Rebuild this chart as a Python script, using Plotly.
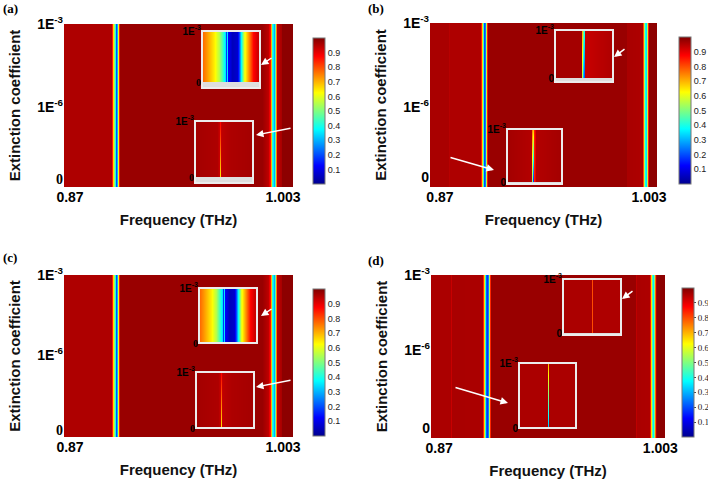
import plotly.graph_objects as go

W, H = 708, 480

# MATLAB style jet colour map
JET = [[0.0, '#00008f'], [0.125, '#0000ff'], [0.375, '#00ffff'],
       [0.625, '#ffff00'], [0.875, '#ff0000'], [1.0, '#800000']]

# ---- values ----
X_TICKS = [0.87, 1.003]
X_TICK_TEXT = ['0.87', '1.003']
Y_TICK_TEXT = ['0', '1E<sup>-6</sup>', '1E<sup>-3</sup>']
INSET_TICK_TEXT = ['0', '1E<sup>-3</sup>']
CBAR_TICKS = [0.1, 0.2, 0.3, 0.4, 0.5, 0.6, 0.7, 0.8, 0.9]

# transmission across frequency (constant along the extinction axis)
FREQ_A = [0.86625, 0.8956, 0.8962, 0.8968, 0.8978, 0.8987, 0.8993, 0.9000, 0.9006, 0.9012,
          0.9899, 0.9936, 0.9949, 0.9955, 0.9964, 0.9974, 0.9980, 0.9986, 0.9992, 1.0017,
          1.0024, 1.0092]
T_A = [0.955, 0.955, 0.85, 0.66, 0.40, 0.20, 0.30, 0.60, 0.85, 0.975,
       0.975, 0.94, 0.86, 0.70, 0.42, 0.30, 0.45, 0.75, 0.94, 0.96,
       0.987, 0.987]

FREQ_B = [0.86364, 0.87509, 0.87573, 0.87636, 0.89546, 0.89609, 0.89673, 0.89736, 0.89800,
          0.89864, 0.89927, 0.89991, 0.90055, 0.98837, 0.98900, 0.99855, 0.99918, 0.99982,
          1.00045, 1.00109, 1.00173, 1.00236, 1.00300, 1.00809]
T_B = [0.96, 0.96, 0.945, 0.955, 0.955, 0.85, 0.66, 0.42, 0.20,
       0.25, 0.55, 0.85, 0.975, 0.975, 0.96, 0.955, 0.80, 0.55,
       0.38, 0.35, 0.55, 0.85, 0.987, 0.987]

FREQ_D = [0.86512, 0.87671, 0.87732, 0.87793, 0.89562, 0.89623, 0.89684, 0.89745, 0.89806,
          0.89867, 0.89928, 0.89989, 0.90050, 0.90111, 0.98773, 0.98834, 0.98895, 0.99627,
          0.99688, 0.99749, 0.99810, 0.99871, 0.99932, 0.99993, 1.00054, 1.00115, 1.00579]
T_D = [0.958, 0.958, 0.93, 0.96, 0.958, 0.84, 0.66, 0.42, 0.22,
       0.18, 0.25, 0.55, 0.84, 0.975, 0.975, 0.94, 0.958, 0.955,
       0.85, 0.66, 0.45, 0.36, 0.50, 0.78, 0.95, 0.987, 0.987]

# insets: local position across the zoomed window, value at bottom / top edge
IN_A_TOP_U = [0.0, 0.214, 0.286, 0.357, 0.393, 0.411, 0.429, 0.446, 0.518, 0.607,
              0.643, 0.679, 0.732, 0.804, 0.875, 0.946, 1.0]
IN_A_TOP_T = [0.78, 0.64, 0.55, 0.42, 0.35, 0.18, 0.35, 0.12, 0.05, 0.07,
              0.20, 0.38, 0.60, 0.75, 0.87, 0.92, 0.93]

IN_A_BOT_U = [0.0, 0.38, 0.41, 0.425, 0.44, 0.47, 0.6, 1.0]
IN_A_BOT_T0 = [0.965, 0.955, 0.93, 0.65, 0.93, 0.94, 0.955, 0.965]
IN_A_BOT_T1 = [0.965, 0.955, 0.93, 0.88, 0.93, 0.94, 0.955, 0.965]

IN_B_TOP_U = [0.0, 0.45, 0.466, 0.48, 0.49, 0.50, 0.51, 0.525, 0.7, 1.0]
IN_B_TOP_T0 = [0.965, 0.965, 0.55, 0.40, 0.30, 0.20, 0.70, 0.93, 0.94, 0.955]
IN_B_TOP_T1 = [0.965, 0.965, 0.70, 0.60, 0.50, 0.40, 0.75, 0.93, 0.94, 0.955]

IN_B_BOT_U = [0.0, 0.44, 0.46, 0.47, 0.48, 0.49, 0.53, 1.0]
IN_B_BOT_T0 = [0.965, 0.95, 0.50, 0.30, 0.15, 0.85, 0.95, 0.965]
IN_B_BOT_T1 = [0.965, 0.95, 0.75, 0.60, 0.70, 0.85, 0.95, 0.965]

IN_D_TOP_U = [0.0, 0.49, 0.5, 0.51, 1.0]
IN_D_TOP_T = [0.958, 0.958, 0.80, 0.955, 0.955]

IN_D_BOT_U = [0.0, 0.50, 0.51, 0.52, 1.0]
IN_D_BOT_T0 = [0.958, 0.958, 0.30, 0.958, 0.958]
IN_D_BOT_T1 = [0.958, 0.958, 0.70, 0.958, 0.958]

SANS = 'Arial, Liberation Sans, sans-serif'
SERIF = 'Times New Roman, Liberation Serif, serif'

# ---- layout of the four panels, in pixels of the 708x480 page ----
PANELS = [
    dict(label='(a)', lab=(1, 8), main=(64, 24, 293, 187), cbar=(313, 38, 184),
         ypos=[0.05, 0.49, 1.0], zero_serif=True, cbar_serif=False,
         freq=FREQ_A, trans=T_A,
         insets=[dict(box=(202, 31, 260, 88), strip=6, u=IN_A_TOP_U, t0=IN_A_TOP_T, t1=IN_A_TOP_T,
                      arrow=((273, 57), (261, 65))),
                 dict(box=(195, 121, 253, 183), strip=6, u=IN_A_BOT_U, t0=IN_A_BOT_T0, t1=IN_A_BOT_T1,
                      arrow=((292, 128), (256, 135)))]),
    dict(label='(b)', lab=(366, 8), main=(430, 23, 657, 187), cbar=(679, 37, 184),
         ypos=[0.06, 0.49, 1.0], zero_serif=False, cbar_serif=False,
         freq=FREQ_B, trans=T_B,
         insets=[dict(box=(555, 30, 613, 82), strip=4, u=IN_B_TOP_U, t0=IN_B_TOP_T0, t1=IN_B_TOP_T1,
                      arrow=((626, 48), (614, 57))),
                 dict(box=(507, 129, 562, 184), strip=2, u=IN_B_BOT_U, t0=IN_B_BOT_T0, t1=IN_B_BOT_T1,
                      arrow=((449, 157), (494, 170)))]),
    dict(label='(c)', lab=(1, 257), main=(64, 275, 293, 437), cbar=(313, 289, 436),
         ypos=[0.045, 0.505, 1.0], zero_serif=True, cbar_serif=False,
         freq=FREQ_A, trans=T_A,
         insets=[dict(box=(199, 288, 257, 343), strip=0, u=IN_A_TOP_U, t0=IN_A_TOP_T, t1=IN_A_TOP_T,
                      arrow=((273, 308), (261, 316))),
                 dict(box=(196, 372, 254, 428), strip=0, u=IN_A_BOT_U, t0=IN_A_BOT_T0, t1=IN_A_BOT_T1,
                      arrow=((292, 380), (256, 387)))]),
    dict(label='(d)', lab=(366, 260), main=(431, 275, 665, 438), cbar=(682, 288, 437),
         ypos=[0.06, 0.54, 1.0], zero_serif=False, cbar_serif=True,
         freq=FREQ_D, trans=T_D,
         insets=[dict(box=(563, 279, 621, 335), strip=2, u=IN_D_TOP_U, t0=IN_D_TOP_T, t1=IN_D_TOP_T,
                      arrow=((634, 290), (622, 299))),
                 dict(box=(519, 363, 576, 428), strip=0, u=IN_D_BOT_U, t0=IN_D_BOT_T0, t1=IN_D_BOT_T1,
                      arrow=((454, 387), (508, 403)))]),
]


def _dom_x(x0, x1):
    return [x0 / W, x1 / W]


def _dom_y(y0, y1):
    return [1 - y1 / H, 1 - y0 / H]


def _axis_names(n):
    suffix = '' if n == 1 else str(n)
    return 'x' + suffix, 'y' + suffix, 'xaxis' + suffix, 'yaxis' + suffix


fig = go.Figure()
layout_axes = {}
shapes = []
annotations = []
n = 0

for p in PANELS:
    # main map
    n += 1
    xr, yr, xk, yk = _axis_names(n)
    x0, y0, x1, y1 = p['main']
    cx, cy0, cy1 = p['cbar']
    cb_font = dict(size=9, family=SERIF if p['cbar_serif'] else SANS, color='#222')
    fig.add_trace(go.Heatmap(
        x=p['freq'], y=[0, 1], z=[p['trans'], p['trans']], zsmooth='best',
        colorscale=JET, zmin=0, zmax=1, xaxis=xr, yaxis=yr, hoverinfo='skip',
        colorbar=dict(x=cx / W, xanchor='left', y=1 - cy0 / H, yanchor='top',
                      len=(cy1 - cy0) / H, lenmode='fraction', thickness=12,
                      tickvals=CBAR_TICKS, ticks='outside' if p['cbar_serif'] else '',
                      ticklen=2, tickfont=cb_font, outlinewidth=1, outlinecolor='#777',
                      xpad=0, ypad=0)))
    ytext = list(Y_TICK_TEXT)
    if p['zero_serif']:
        ytext[0] = '<span style="font-family:Liberation Serif">0</span>'
    layout_axes[xk] = dict(domain=_dom_x(x0, x1), range=[p['freq'][0], p['freq'][-1]],
                           anchor=yr, tickvals=X_TICKS, ticktext=X_TICK_TEXT, ticks='',
                           showgrid=False, zeroline=False, showline=False,
                           tickfont=dict(size=14, family=SANS, weight='bold', color='black'),
                           title=dict(text='Frequency (THz)', standoff=10,
                                      font=dict(size=15, family=SANS, weight='bold', color='#111')))
    layout_axes[yk] = dict(domain=_dom_y(y0, y1), range=[0, 1], anchor=xr,
                           tickvals=p['ypos'], ticktext=ytext, ticks='',
                           showgrid=False, zeroline=False, showline=False,
                           tickfont=dict(size=14, family=SANS, weight='bold', color='black'),
                           title=dict(text='Extinction coefficient', standoff=12,
                                      font=dict(size=15, family=SANS, weight='bold', color='#111')))
    annotations.append(dict(text=p['label'], x=p['lab'][0] / W, y=1 - p['lab'][1] / H,
                            xref='paper', yref='paper', xanchor='left', yanchor='middle',
                            showarrow=False,
                            font=dict(size=13, family=SERIF, weight='bold', color='black')))

    # the two zoomed insets
    for ins in p['insets']:
        n += 1
        xr, yr, xk, yk = _axis_names(n)
        bx0, by0, bx1, by1 = ins['box']
        img_bottom = by1 - ins['strip']
        fig.add_trace(go.Heatmap(
            x=ins['u'], y=[0, 1], z=[ins['t0'], ins['t1']], zsmooth='best',
            colorscale=JET, zmin=0, zmax=1, showscale=False,
            xaxis=xr, yaxis=yr, hoverinfo='skip'))
        itext = list(INSET_TICK_TEXT)
        if p['zero_serif']:
            itext[0] = '<span style="font-family:Liberation Serif">0</span>'
        layout_axes[xk] = dict(domain=_dom_x(bx0, bx1), range=[0, 1], anchor=yr,
                               visible=False)
        layout_axes[yk] = dict(domain=_dom_y(by0, img_bottom), range=[0, 1], anchor=xr,
                               tickvals=[0, 1], ticktext=itext, ticks='',
                               showgrid=False, zeroline=False, showline=False,
                               tickfont=dict(size=10, family=SANS, weight='bold', color='black'))
        if ins['strip']:
            shapes.append(dict(type='rect', xref='paper', yref='paper',
                               x0=bx0 / W, x1=bx1 / W, y0=1 - by1 / H, y1=1 - img_bottom / H,
                               fillcolor='#dedede', line=dict(width=0)))
        shapes.append(dict(type='rect', xref='paper', yref='paper',
                           x0=bx0 / W, x1=bx1 / W, y0=1 - by1 / H, y1=1 - by0 / H,
                           line=dict(color='#ececec', width=2)))
        (tx, ty), (hx, hy) = ins['arrow']
        annotations.append(dict(text='', x=hx / W, y=1 - hy / H, xref='paper', yref='paper',
                                ax=tx - hx, ay=ty - hy, showarrow=True, arrowhead=2,
                                arrowsize=1, arrowwidth=1.5, arrowcolor='white'))

fig.update_layout(width=W, height=H,
                  margin=dict(l=0, r=0, t=0, b=0, autoexpand=False),
                  paper_bgcolor='white', plot_bgcolor='white', showlegend=False,
                  shapes=shapes, annotations=annotations, **layout_axes)

# the page body keeps its default 8px margin otherwise
fig.write_html("out.html", config={'displayModeBar': False},
               post_script="document.body.style.margin='0';")
